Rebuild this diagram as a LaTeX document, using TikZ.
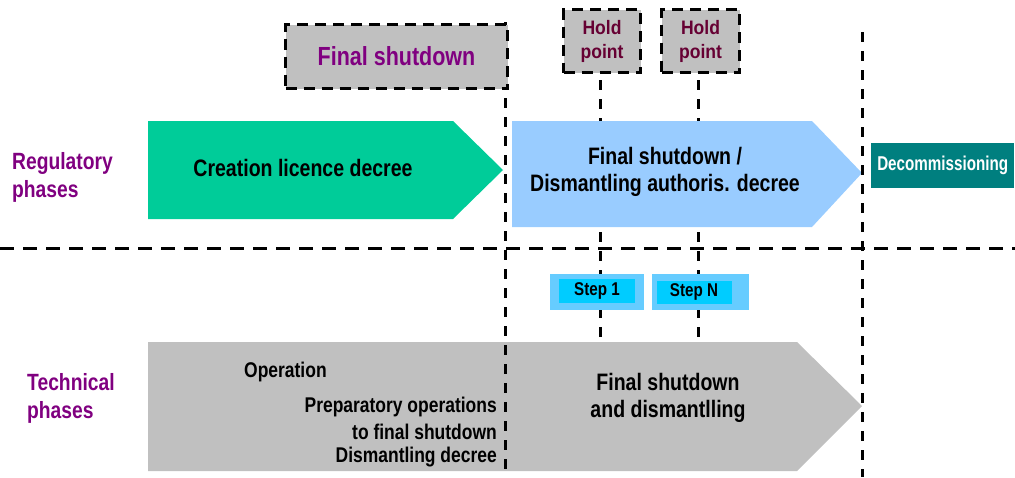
\documentclass[tikz,border=0pt]{standalone}
\usepackage{fontspec}
\usepackage{graphicx}
\setmainfont{Liberation Sans}
\definecolor{cgreen}{HTML}{00CC99}
\definecolor{cblue}{HTML}{99CCFF}
\definecolor{cgray}{HTML}{C0C0C0}
\definecolor{cteal}{HTML}{007F7F}
\definecolor{cstepout}{HTML}{66CCFF}
\definecolor{cstepin}{HTML}{00CCFF}
\definecolor{cpurple}{HTML}{800080}
\definecolor{choldtxt}{HTML}{660033}
\newcommand{\nx}[1]{\scalebox{0.82}[1]{#1}}
\newcommand{\nxh}[1]{\scalebox{0.9}[1]{#1}}
\newcommand{\nxd}[1]{\scalebox{0.76}[1]{#1}}
\begin{document}
\begin{tikzpicture}[x=1pt,y=-1pt,
  vline/.style={line width=3pt,dash pattern=on 10pt off 9pt},
  hline/.style={line width=3pt,dash pattern=on 14pt off 9pt},
  dbox/.style={draw=black,fill=cgray,line width=3pt,dash pattern=on 11pt off 7pt},
  lbl/.style={font=\fontsize{23.5}{28}\selectfont\bfseries,text=cpurple,align=left,inner sep=0pt},
  atxt/.style={font=\fontsize{23.8}{27}\selectfont\bfseries,align=center,inner sep=0pt},
  otxt/.style={font=\fontsize{21.3}{25}\selectfont\bfseries,inner sep=0pt},
  holdtxt/.style={font=\fontsize{19.5}{24}\selectfont\bfseries,text=choldtxt,align=center},
  steptxt/.style={font=\fontsize{18.5}{20}\selectfont\bfseries,inner sep=0pt}]
\useasboundingbox (0,0) rectangle (1015,477);

% vertical lines behind the arrows (hold points)
\coordinate (h1top) at (600,80);
\coordinate (h1bot) at (600,477);
\coordinate (h2top) at (698,80);
\coordinate (h2bot) at (698,477);
\draw[vline] (h1top) -- (h1bot);
\draw[vline] (h2top) -- (h2bot);

% horizontal separator
\coordinate (hl) at (0,248);
\coordinate (hr) at (1015,248);
\draw[hline] (hl) -- (hr);

% arrows
\fill[cgreen] (148,121) -- (453,121) -- (503,170) -- (453,219) -- (148,219) -- cycle;
\fill[cblue] (512,121) -- (812,121) -- (862,173) -- (812,227) -- (512,227) -- cycle;
\fill[cgray] (148,342) -- (797,342) -- (862,406) -- (797,471) -- (148,471) -- cycle;

% main vertical lines
\coordinate (v1top) at (505,22);
\coordinate (v1bot) at (505,477);
\coordinate (v2top) at (862,32);
\coordinate (v2bot) at (862,477);
\draw[vline] (v1top) -- (v1bot);
\draw[vline] (v2top) -- (v2bot);

% final shutdown box
\node[dbox,minimum width=222pt,minimum height=64pt,anchor=north west,
  font=\fontsize{26.2}{30}\selectfont\bfseries,text=cpurple] (fs) at (284,23) {\nx{Final shutdown}};

% hold points
\node[dbox,minimum width=77pt,minimum height=63pt,anchor=north west,holdtxt] (hp1) at (562,8) {\nxh{Hold}\\\nxh{point}};
\node[dbox,minimum width=78pt,minimum height=63pt,anchor=north west,holdtxt] (hp2) at (660,8) {\nxh{Hold}\\\nxh{point}};

% arrow texts
\node[atxt] (crea) at (303,168) {\nx{Creation licence decree}};
\node[atxt] (fsd) at (665,172) {\nx{Final shutdown /}\\\nx{Dismantling authoris. decree}};
\node[atxt] (fsdm) at (668,398) {\nx{Final shutdown}\\\nx{and dismantlling}};

% decommissioning
\node[fill=cteal,text=white,anchor=north west,minimum width=143pt,minimum height=45pt,inner sep=0pt,
  font=\fontsize{20}{22}\selectfont\bfseries] (dec) at (871,143) {\nxd{Decommissioning}};

% steps
\node[fill=cstepout,anchor=north west,minimum width=94pt,minimum height=36pt] (s1o) at (550,274) {};
\node[fill=cstepin,minimum width=76pt,minimum height=24pt,steptxt] (s1) at (597,291) {\nx{Step 1}};
\node[fill=cstepout,anchor=north west,minimum width=97pt,minimum height=36pt] (sNo) at (652,274) {};
\node[fill=cstepin,minimum width=75pt,minimum height=23pt,steptxt] (sN) at (694,292) {\nx{Step N}};

% side labels
\node[lbl,anchor=west] (reg) at (12,177) {\nx{Regulatory}\\\nx{phases}};
\node[lbl,anchor=west] (tech) at (27,398) {\nx{Technical}\\\nx{phases}};

% operation texts
\node[otxt,anchor=west] (op) at (244,372) {\nx{Operation}};
\node[otxt,anchor=east] (prep1) at (497,407) {\nx{Preparatory operations}};
\node[otxt,anchor=east] (prep2) at (497,432) {\nx{to final shutdown}};
\node[otxt,anchor=east] (prep3) at (497,457) {\nx{Dismantling decree}};
\end{tikzpicture}
\end{document}
